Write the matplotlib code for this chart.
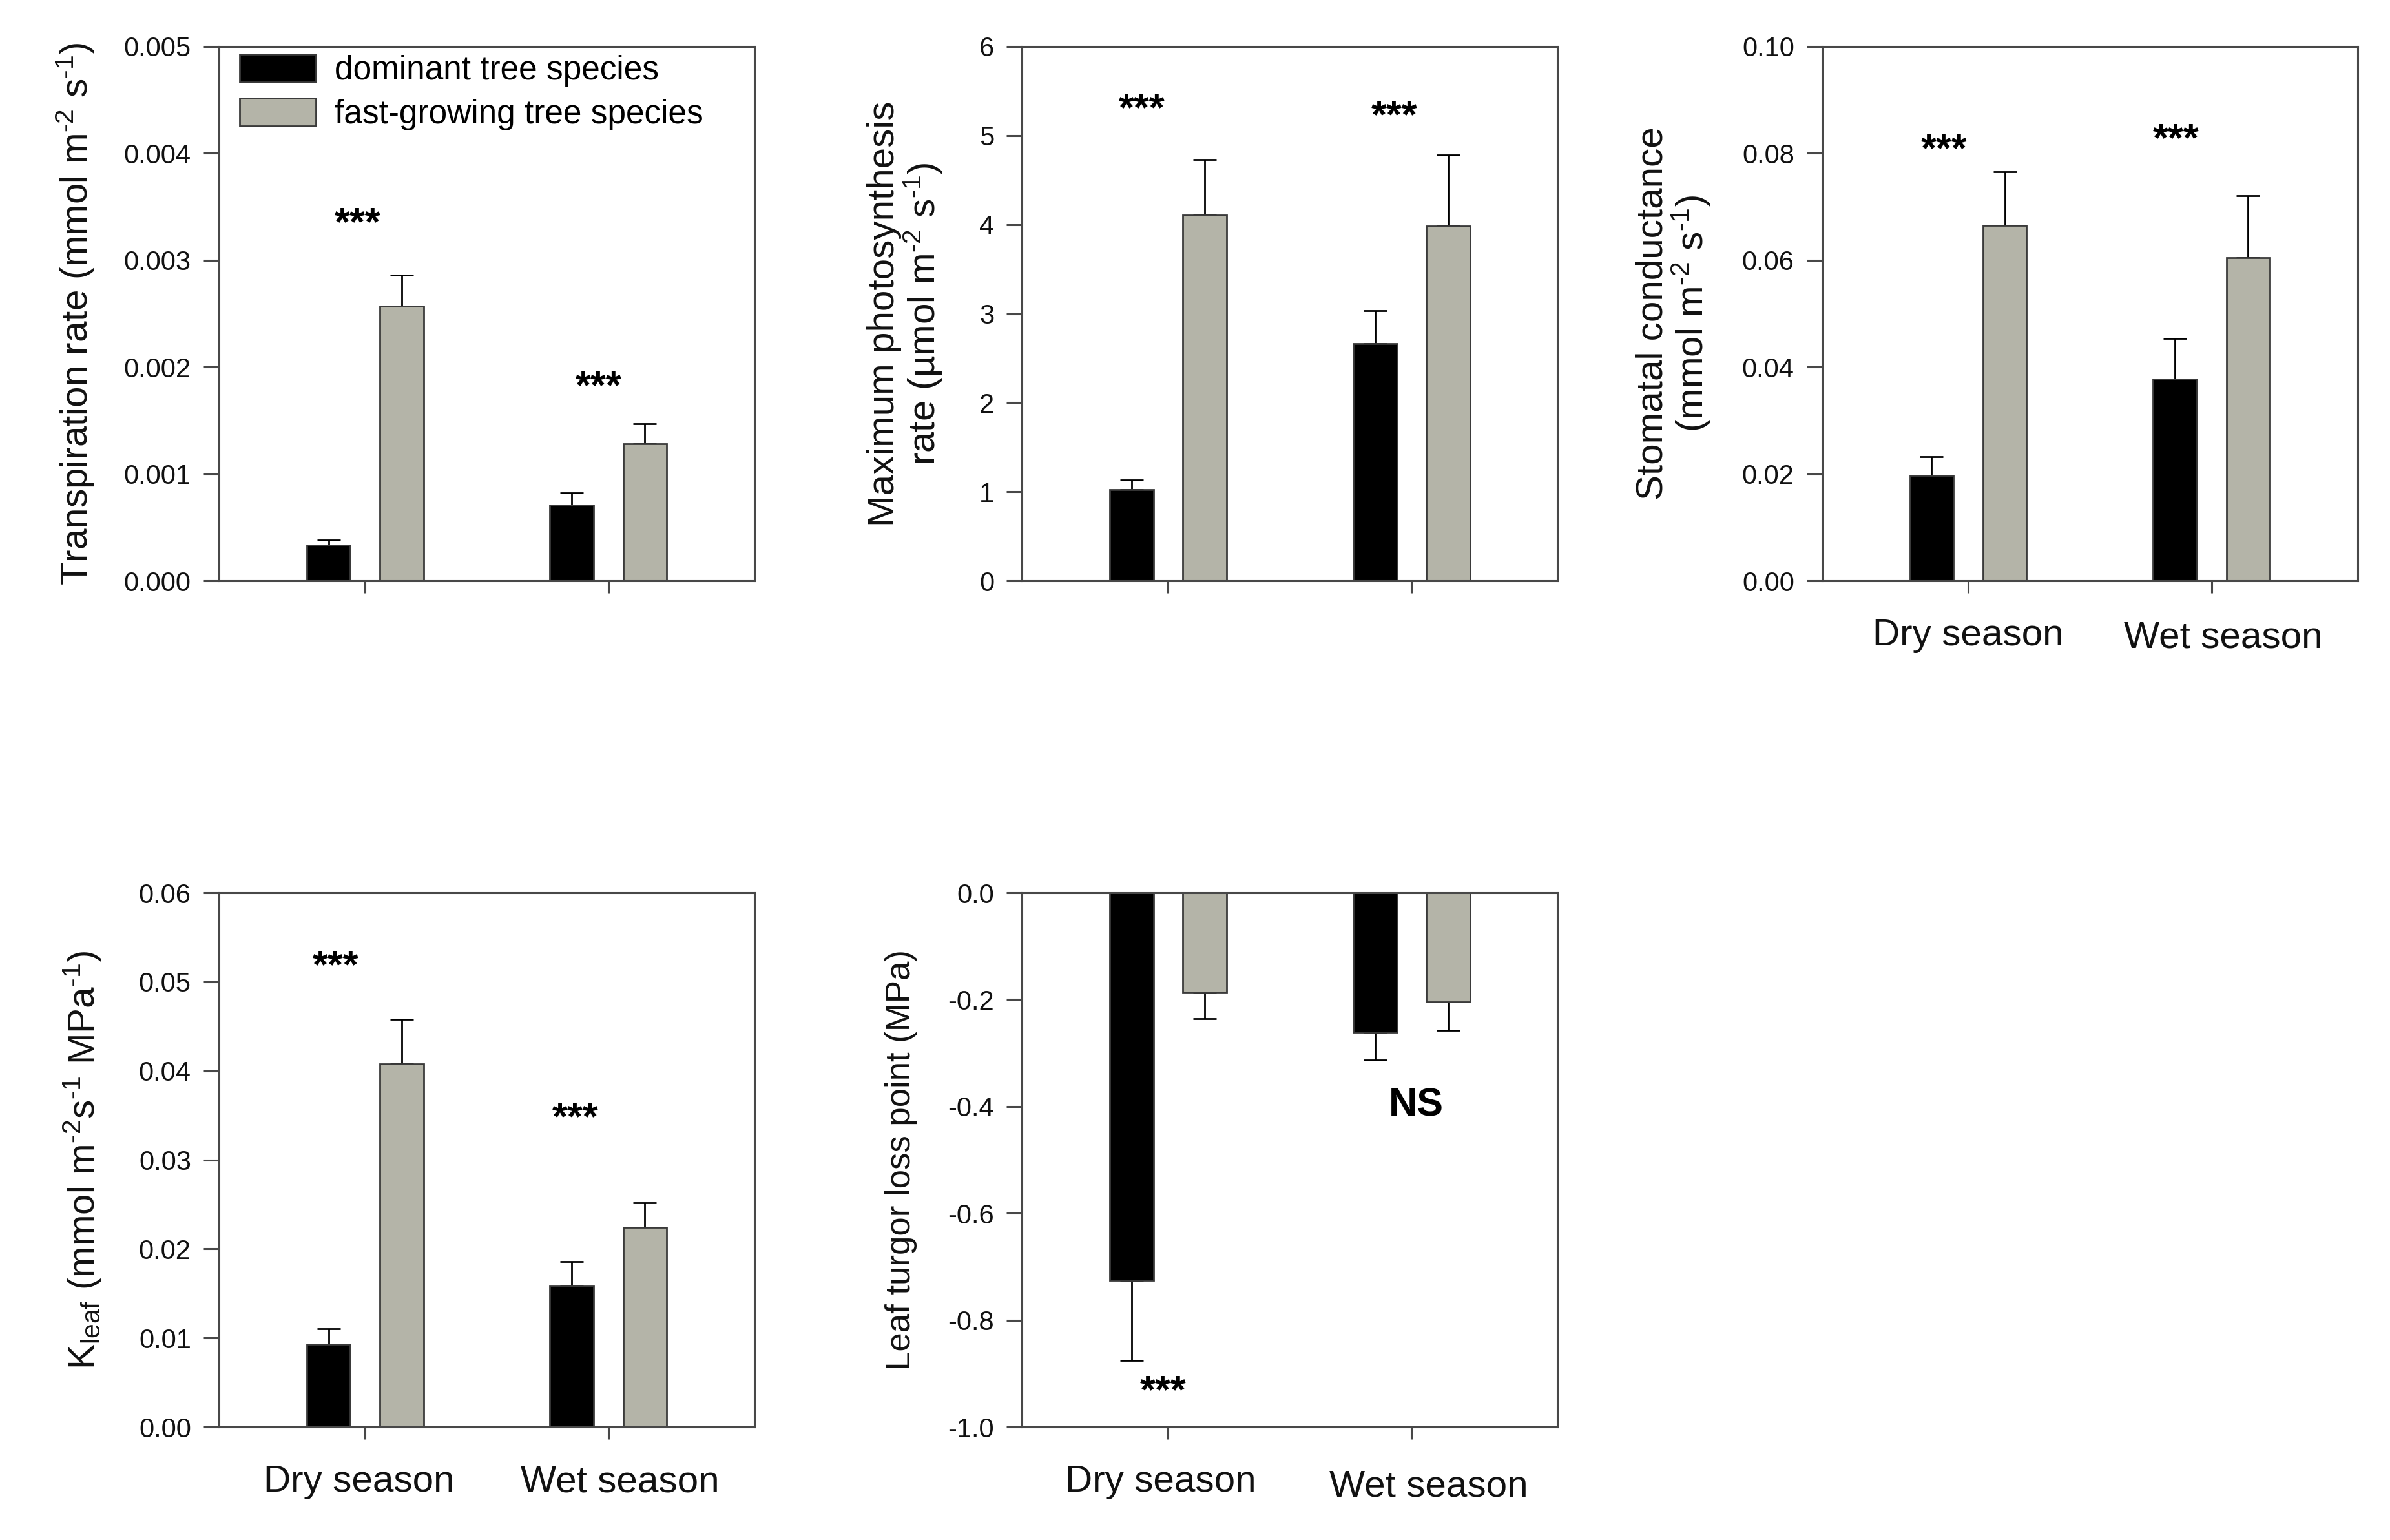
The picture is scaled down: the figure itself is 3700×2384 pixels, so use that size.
import numpy as np
import matplotlib
matplotlib.use("Agg")
import matplotlib.pyplot as plt
from matplotlib.ticker import FormatStrFormatter
from matplotlib.transforms import ScaledTranslation

plt.rcParams["font.family"] = ["Liberation Sans", "DejaVu Sans"]
plt.rcParams["mathtext.fontset"] = "custom"
plt.rcParams["mathtext.rm"] = "Liberation Sans"
plt.rcParams["mathtext.it"] = "Liberation Sans:italic"
plt.rcParams["mathtext.bf"] = "Liberation Sans:bold"

seasons = ["Dry season", "Wet season"]
series_names = ["dominant tree species", "fast-growing tree species"]

# transpiration rate
trans_dom = [0.00033, 0.00071]
trans_dom_se = [0.00005, 0.00011]
trans_fast = [0.00257, 0.00128]
trans_fast_se = [0.00029, 0.00019]

# maximum photosynthesis rate
amax_dom = [1.02, 2.66]
amax_dom_se = [0.11, 0.37]
amax_fast = [4.11, 3.98]
amax_fast_se = [0.62, 0.80]

# stomatal conductance
gs_dom = [0.0197, 0.0377]
gs_dom_se = [0.0035, 0.0076]
gs_fast = [0.0665, 0.0604]
gs_fast_se = [0.0100, 0.0117]

# Kleaf
kleaf_dom = [0.0093, 0.0158]
kleaf_dom_se = [0.0017, 0.0028]
kleaf_fast = [0.0408, 0.0224]
kleaf_fast_se = [0.0050, 0.0028]

# leaf turgor loss point
tlp_dom = [-0.726, -0.261]
tlp_dom_se = [0.150, 0.052]
tlp_fast = [-0.186, -0.204]
tlp_fast_se = [0.050, 0.054]

DARK = "#000000"
GREY = "#b4b4a8"
EDGE = "#3a3a3a"
SPINE = "#484848"
HY = "\u2010"  # short hyphen used in the superscripts

fig = plt.figure(figsize=(18.5, 11.92), dpi=200)
fig.patch.set_facecolor("white")

ax_w, ax_h = 0.2241, 0.3469
lefts = [0.0916, 0.4276, 0.7624]
bottoms = [0.6229, 0.0734]

x = np.arange(len(seasons))
offset = 0.15
bar_w = 0.18


def draw_panel(ax, dom, dom_se, fast, fast_se, ylim, yticks, ylabel, show_xlabels,
               label_x, label_size=21):
    handles = []
    for vals, se, color, sign in [(dom, dom_se, DARK, -1), (fast, fast_se, GREY, 1)]:
        vals = np.array(vals)
        se = np.array(se)
        xpos = x + sign * offset
        bars = ax.bar(xpos, vals, width=bar_w, color=color, edgecolor=EDGE,
                      linewidth=1.0, zorder=2)
        handles.append(bars)
        lower = np.where(vals < 0, se, 0)
        upper = np.where(vals >= 0, se, 0)
        ax.errorbar(xpos, vals, yerr=[lower, upper], fmt="none", ecolor="black",
                    elinewidth=1.0, capsize=6.5, capthick=1.0, zorder=1)

    ax.set_xlim(-0.6, 1.6)
    ax.set_ylim(*ylim)
    ax.set_yticks(np.round(yticks, 6) + 0.0)
    ax.set_xticks(x)
    if show_xlabels:
        ax.set_xticklabels(seasons, fontsize=21)
    else:
        ax.set_xticklabels([])

    for side in ["left", "right", "top", "bottom"]:
        ax.spines[side].set_color(SPINE)
        ax.spines[side].set_linewidth(1.1)

    ax.tick_params(axis="y", direction="out", length=8.5, width=1.1, color=SPINE,
                   labelsize=15, pad=7, labelcolor="#111111")
    ax.tick_params(axis="x", direction="out", length=7, width=1.1, color=SPINE,
                   pad=14, labelcolor="#111111")
    ax.set_ylabel(ylabel, fontsize=label_size, linespacing=1.0, color="#111111")
    ax.yaxis.set_label_coords(label_x, 0.5)
    return handles


def shift_xlabels(ax, shifts):
    # small nudges of the season labels, in points
    for lab, (dx, dy) in zip(ax.get_xticklabels(), shifts):
        lab.set_transform(lab.get_transform()
                          + ScaledTranslation(dx / 72, dy / 72, fig.dpi_scale_trans))


def stars(ax, xv, yv, s="***"):
    ax.annotate(s, (xv, yv), xytext=(0, -4.5), textcoords="offset points",
                ha="center", va="center", fontsize=22, fontweight="bold")


# panel 1
ax1 = fig.add_axes([lefts[0], bottoms[0], ax_w, ax_h])
h = draw_panel(ax1, trans_dom, trans_dom_se, trans_fast, trans_fast_se,
               (0, 0.005), np.arange(0, 0.0051, 0.001),
               f"Transpiration rate (mmol m$^{{{HY}2}}$ s$^{{{HY}1}}$)", False, -0.228)
ax1.yaxis.set_major_formatter(FormatStrFormatter("%.3f"))
stars(ax1, -0.03, 0.00341)
stars(ax1, 0.96, 0.00188)
ax1.legend(h, series_names, loc="upper left", bbox_to_anchor=(0.039, 0.985),
           frameon=False, fontsize=18.5, handlelength=2.3, handleheight=0.9,
           handletextpad=0.55, labelspacing=0.35, borderaxespad=0, borderpad=0)

# panel 2
ax2 = fig.add_axes([lefts[1], bottoms[0], ax_w, ax_h])
draw_panel(ax2, amax_dom, amax_dom_se, amax_fast, amax_fast_se,
           (0, 6), np.arange(0, 7, 1),
           f"Maximum photosynthesis\nrate (\u00b5mol m$^{{{HY}2}}$ s$^{{{HY}1}}$)", False,
           -0.145)
stars(ax2, -0.108, 5.375)
stars(ax2, 0.93, 5.297)

# panel 3
ax3 = fig.add_axes([lefts[2], bottoms[0], ax_w, ax_h])
draw_panel(ax3, gs_dom, gs_dom_se, gs_fast, gs_fast_se,
           (0, 0.10), np.arange(0, 0.101, 0.02),
           f"Stomatal conductance\n(mmol m$^{{{HY}2}}$ s$^{{{HY}1}}$)", True, -0.205)
ax3.yaxis.set_major_formatter(FormatStrFormatter("%.2f"))
shift_xlabels(ax3, [(0, 0), (6.5, -1)])
stars(ax3, -0.10, 0.082)
stars(ax3, 0.854, 0.0839)

# panel 4
ax4 = fig.add_axes([lefts[0], bottoms[1], ax_w, ax_h])
draw_panel(ax4, kleaf_dom, kleaf_dom_se, kleaf_fast, kleaf_fast_se,
           (0, 0.06), np.arange(0, 0.061, 0.01),
           f"K$_{{\\mathrm{{leaf}}}}$ (mmol m$^{{{HY}2}}$s$^{{{HY}1}}$ MPa$^{{{HY}1}}$)",
           True, -0.215)
ax4.yaxis.set_major_formatter(FormatStrFormatter("%.2f"))
shift_xlabels(ax4, [(-3.5, 0), (6.5, 0)])
stars(ax4, -0.12, 0.0525)
stars(ax4, 0.863, 0.0355)

# panel 5
ax5 = fig.add_axes([lefts[1], bottoms[1], ax_w, ax_h])
draw_panel(ax5, tlp_dom, tlp_dom_se, tlp_fast, tlp_fast_se,
           (-1.0, 0.0), np.arange(-1.0, 0.01, 0.2),
           "Leaf turgor loss point (MPa)", True, -0.195, label_size=19)
ax5.yaxis.set_major_formatter(FormatStrFormatter("%.1f"))
shift_xlabels(ax5, [(-4, 0), (9.5, -2.5)])
stars(ax5, -0.02, -0.921)
ax5.text(1.02, -0.399, "NS", ha="center", va="center", fontsize=22, fontweight="bold")

fig.savefig("out.png", dpi=200, facecolor="white")
